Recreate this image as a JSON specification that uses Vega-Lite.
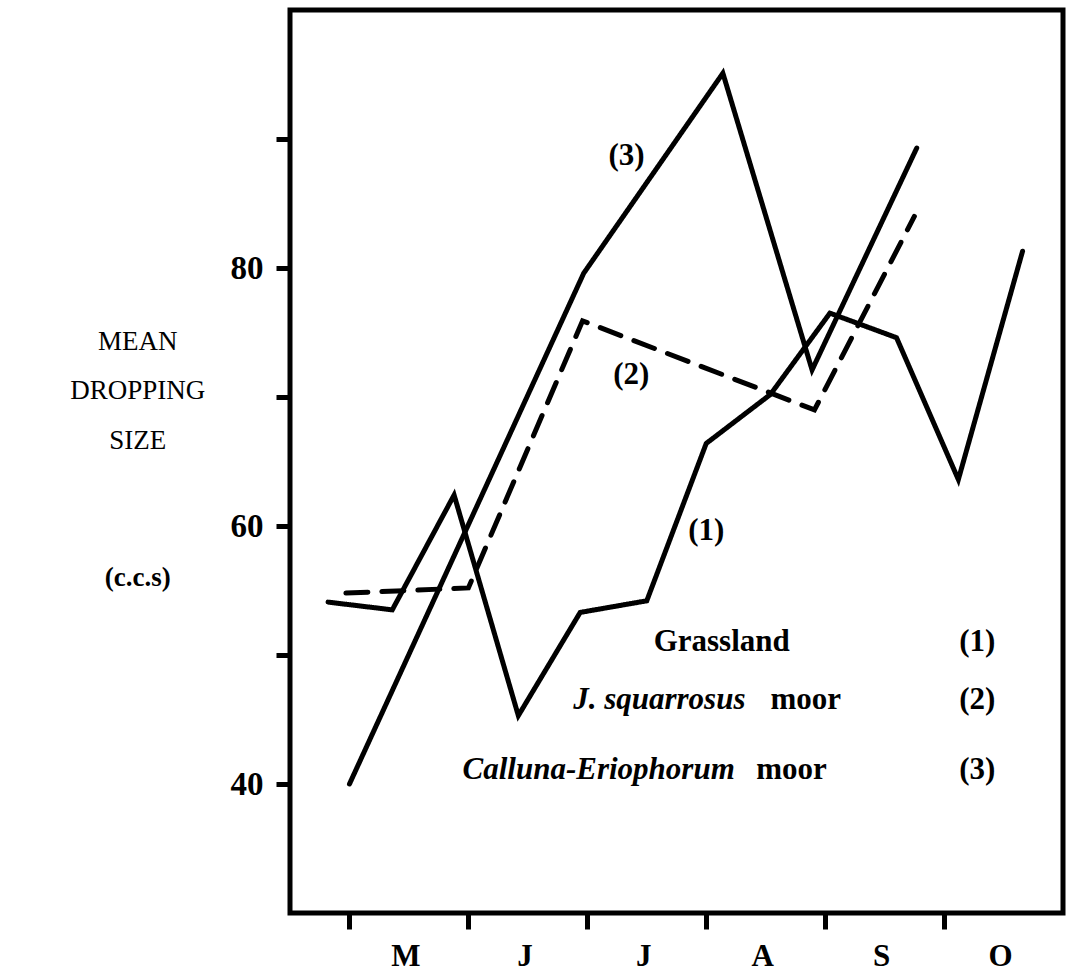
{
  "$schema": "https://vega.github.io/schema/vega-lite/v6.json",
  "width": 773,
  "height": 903,
  "autosize": {"type": "none"},
  "padding": {"left": 290, "top": 10, "right": 11, "bottom": 63},
  "background": "white",
  "config": {
    "view": {"stroke": "black", "strokeWidth": 5},
    "font": "Liberation Serif"
  },
  "datasets": {
    "series": [
      {"series": "1", "month": 4.82, "size": 54.1},
      {"series": "1", "month": 5.36, "size": 53.5},
      {"series": "1", "month": 5.88, "size": 62.4},
      {"series": "1", "month": 6.42, "size": 45.3},
      {"series": "1", "month": 6.94, "size": 53.3},
      {"series": "1", "month": 7.5, "size": 54.2},
      {"series": "1", "month": 8.0, "size": 66.4},
      {"series": "1", "month": 8.54, "size": 70.2},
      {"series": "1", "month": 9.04, "size": 76.5},
      {"series": "1", "month": 9.6, "size": 74.6},
      {"series": "1", "month": 10.12, "size": 63.6},
      {"series": "1", "month": 10.66, "size": 81.3},
      {"series": "2", "month": 4.97, "size": 54.8},
      {"series": "2", "month": 6.0, "size": 55.2},
      {"series": "2", "month": 6.96, "size": 75.9},
      {"series": "2", "month": 8.91, "size": 69.0},
      {"series": "2", "month": 9.75, "size": 84.0},
      {"series": "3", "month": 5.0, "size": 40.0},
      {"series": "3", "month": 6.97, "size": 79.6},
      {"series": "3", "month": 8.14, "size": 95.1},
      {"series": "3", "month": 8.89, "size": 72.1},
      {"series": "3", "month": 9.77, "size": 89.3}
    ],
    "curveLabels": [
      {"month": 7.33, "size": 88.7, "label": "(3)"},
      {"month": 7.37, "size": 71.7, "label": "(2)"},
      {"month": 8.0, "size": 59.6, "label": "(1)"}
    ],
    "legendCenter": [
      {"month": 8.13, "size": 51.0, "label": "Grassland"},
      {"month": 10.28, "size": 51.0, "label": "(1)"},
      {"month": 10.28, "size": 46.5, "label": "(2)"},
      {"month": 10.28, "size": 41.1, "label": "(3)"}
    ],
    "legendItalic": [
      {"month": 8.33, "size": 46.5, "label": "J. squarrosus"},
      {"month": 8.24, "size": 41.1, "label": "Calluna-Eriophorum"}
    ],
    "legendMoor": [
      {"month": 8.54, "size": 46.5, "label": "moor"},
      {"month": 8.42, "size": 41.1, "label": "moor"}
    ],
    "yTitle": [
      {"month": 3.22, "size": 74.3, "label": "MEAN"},
      {"month": 3.22, "size": 70.5, "label": "DROPPING"},
      {"month": 3.22, "size": 66.6, "label": "SIZE"}
    ],
    "yUnit": [
      {"month": 3.22, "size": 56.0, "label": "(c.c.s)"}
    ]
  },
  "encoding": {
    "x": {
      "field": "month",
      "type": "quantitative",
      "scale": {"domain": [4.5, 11], "nice": false, "zero": false},
      "axis": {
        "values": [5, 6, 7, 8, 9, 10],
        "labelExpr": "['M','J','J','A','S','O'][datum.value - 5]",
        "labelOffset": 56,
        "tickSize": 16,
        "tickWidth": 5,
        "tickColor": "black",
        "domain": false,
        "grid": false,
        "title": null,
        "labelFont": "Liberation Serif",
        "labelFontWeight": "bold",
        "labelFontSize": 31,
        "labelColor": "black",
        "labelPadding": 12
      }
    },
    "y": {
      "field": "size",
      "type": "quantitative",
      "scale": {"domain": [30, 100], "nice": false, "zero": false},
      "axis": {
        "values": [40, 50, 60, 70, 80, 90],
        "labelExpr": "datum.value % 20 == 0 ? datum.label : ''",
        "tickSize": 14,
        "tickWidth": 5,
        "tickColor": "black",
        "domain": false,
        "grid": false,
        "title": null,
        "labelFont": "Liberation Serif",
        "labelFontWeight": "bold",
        "labelFontSize": 33,
        "labelColor": "black",
        "labelPadding": 13
      }
    }
  },
  "layer": [
    {
      "data": {"name": "series"},
      "mark": {"type": "line", "strokeWidth": 5, "color": "black", "strokeCap": "round", "strokeJoin": "miter"},
      "encoding": {
        "detail": {"field": "series", "type": "nominal"},
        "strokeDash": {
          "field": "series",
          "type": "nominal",
          "scale": {"domain": ["1", "2", "3"], "range": [[1, 0], [22, 14], [1, 0]]},
          "legend": null
        }
      }
    },
    {
      "data": {"name": "curveLabels"},
      "mark": {"type": "text", "font": "Liberation Serif", "fontWeight": "bold", "fontSize": 31, "align": "center", "baseline": "middle", "color": "black"},
      "encoding": {"text": {"field": "label"}}
    },
    {
      "data": {"name": "legendCenter"},
      "mark": {"type": "text", "font": "Liberation Serif", "fontWeight": "bold", "fontSize": 31, "align": "center", "baseline": "middle", "color": "black"},
      "encoding": {"text": {"field": "label"}}
    },
    {
      "data": {"name": "legendItalic"},
      "mark": {"type": "text", "font": "Liberation Serif", "fontWeight": "bold", "fontStyle": "italic", "fontSize": 31, "align": "right", "baseline": "middle", "color": "black"},
      "encoding": {"text": {"field": "label"}}
    },
    {
      "data": {"name": "legendMoor"},
      "mark": {"type": "text", "font": "Liberation Serif", "fontWeight": "bold", "fontSize": 31, "align": "left", "baseline": "middle", "color": "black"},
      "encoding": {"text": {"field": "label"}}
    },
    {
      "data": {"name": "yTitle"},
      "mark": {"type": "text", "font": "Liberation Serif", "fontWeight": "normal", "fontSize": 27, "align": "center", "baseline": "middle", "color": "black"},
      "encoding": {"text": {"field": "label"}}
    },
    {
      "data": {"name": "yUnit"},
      "mark": {"type": "text", "font": "Liberation Serif", "fontWeight": "bold", "fontSize": 27, "align": "center", "baseline": "middle", "color": "black"},
      "encoding": {"text": {"field": "label"}}
    }
  ]
}
